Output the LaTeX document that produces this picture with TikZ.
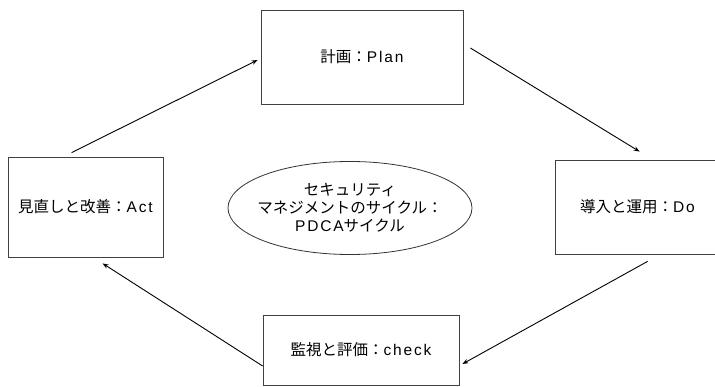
\documentclass[tikz,border=0pt]{standalone}
\usepackage{fontspec}
\setmainfont{Liberation Sans}[LetterSpace=12]
\newfontfamily\cjk{Noto Sans CJK JP}
\usetikzlibrary{shapes.geometric,arrows.meta,calc}
\begin{document}
\begin{tikzpicture}[x=1pt,y=-1pt,
  box/.style={draw=black!75,line width=0.8pt,rectangle,inner sep=0pt,
    font=\fontsize{15.5}{18}\selectfont},
  oval/.style={draw=black!80,line width=0.8pt,ellipse,inner sep=0pt},
  ovaltext/.style={inner sep=0pt,align=center,font=\fontsize{15.5}{18}\selectfont},
  conn/.style={line width=0.9pt,-{Stealth[length=6pt,width=4.5pt]}}]
\useasboundingbox (0,0) rectangle (715,387);
\node[box,minimum width=202pt,minimum height=94pt] (plan) at (362,57) {{\cjk 計画：}Plan};
\node[box,minimum width=155pt,minimum height=100pt] (act) at (85.5,207) {{\cjk 見直しと改善：}Act};
\node[box,minimum width=165pt,minimum height=94pt] (do) at (637.5,207) {{\cjk 導入と運用：}Do};
\node[box,minimum width=196pt,minimum height=70pt] (check) at (361,350) {{\cjk 監視と評価：}check};
\node[oval,minimum width=244pt,minimum height=93pt] (cyc) at (350,208) {};
\node[ovaltext] (cyctext) at (cyc.center)
  {{\cjk セキュリティ}\\{\cjk マネジメントのサイクル：}\\PDCA{\cjk サイクル}};
\draw[conn] ($(act.north west)+(64,-4)$) -- ($(plan.west)+(-3,3)$);
\draw[conn] ($(plan.east)+(7,-9)$) -- ($(do.north west)+(85,-8)$);
\draw[conn] ($(do.south west)+(93,7)$) -- ($(check.east)+(3,14)$);
\draw[conn] ($(check.west)+(0,16)$) -- ($(act.south west)+(95,6)$);
\end{tikzpicture}
\end{document}
